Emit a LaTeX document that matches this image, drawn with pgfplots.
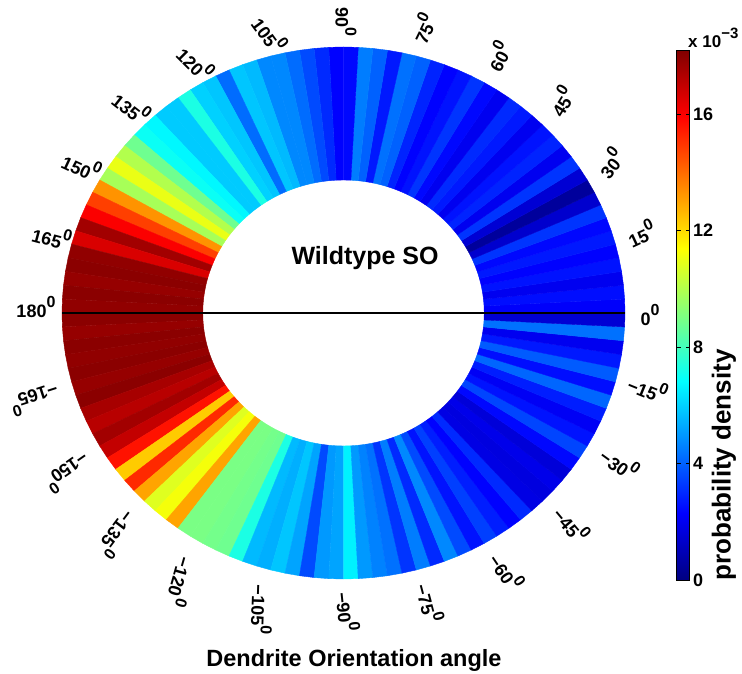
\documentclass[border=0pt]{standalone}
\usepackage{pgfplots}
\usepackage{pgfplotstable}
\pgfplotsset{compat=1.18}
\usepackage{fontspec}
\setmainfont{Liberation Sans}
\pgfplotstableread{
th c
-180 18
-177 17.8
-174 18
-171 17.9
-168 18
-165 17.8
-162 18
-159 17.5
-156 17.2
-153 17.6
-150 17.0
-147 15.6
-144 12.3
-141 15.2
-138 13.0
-135 10.8
-132 11.2
-129 13.0
-126 9.0
-123 9.0
-120 8.9
-117 8.8
-114 7.3
-111 5.6
-108 5.4
-105 5.8
-102 5.2
-99 3.6
-96 5.0
-93 5.2
-90 6.6
-87 5.0
-84 4.6
-81 4.3
-78 3.2
-75 4.5
-72 3.0
-69 4.7
-66 3.6
-63 2.6
-60 3.4
-57 2.8
-54 2.3
-51 3.0
-48 1.8
-45 1.7
-42 1.9
-39 1.6
-36 2.4
-33 3.5
-30 2.6
-27 2.1
-24 2.8
-21 4.1
-18 2.5
-15 3.9
-12 2.7
-9 2.0
-6 4.3
-3 1.5
0 2.2
3 2.5
6 2.0
9 2.6
12 2.3
15 2.7
18 2.4
21 3.2
24 1.4
27 0.5
30 1.5
33 3.2
36 2.0
39 2.9
42 2.6
45 2.0
48 2.7
51 3.0
54 2.0
57 2.4
60 3.2
63 2.6
66 2.3
69 2.9
72 4.0
75 4.3
78 2.7
81 4.0
84 4.5
87 2.4
90 2.3
93 3.0
96 3.6
99 4.2
102 4.7
105 4.7
108 5.6
111 5.8
114 4.2
117 5.8
120 6.0
123 7.3
126 5.9
129 5.9
132 6.7
135 7.0
138 8.8
141 10.0
144 11.0
147 9.8
150 13.3
153 14.8
156 16.0
159 17.6
162 16.6
165 17.9
168 18
171 17.8
174 18
177 17.9
180 18
}\ringdata
\pgfplotstablevertcat{\ringboth}{\ringdata}
\pgfplotstablevertcat{\ringboth}{\ringdata}
\newcommand{\lab}[1]{#1\raisebox{0.55em}{\fontsize{16}{16}\selectfont 0}}
\begin{document}
\begin{tikzpicture}
\path[use as bounding box] (0,0) rectangle (742pt,674pt);
\begin{axis}[
  at={(343.5pt,361pt)}, anchor=center,
  scale only axis, width=563pt, height=532pt,
  xmin=-2, xmax=2, ymin=-2, ymax=2,
  hide axis,
  colormap/jet,
  point meta min=0, point meta max=18.2,
  colorbar,
  colorbar style={
    at={(parent axis.north east)}, anchor=north west,
    xshift=43pt, yshift=-3pt,
    width=13pt, height=530pt,
    ytick={0,4,8,12,16},
    tick align=inside,
    major tick length=4pt,
    ytick style={black, line width=0.6pt},
    axis line style={black, line width=0.6pt},
    yticklabel style={font=\bfseries\fontsize{18}{20}\selectfont, xshift=0pt},
    /pgf/number format/assume math mode=true,
  },
  clip=false,
]
\addplot[surf, shader=flat corner, mesh/rows=2, mesh/cols=121, point meta=explicit]
  table[x expr={ifthenelse(\coordindex<121,1,2)*cos(\thisrow{th})},
        y expr={ifthenelse(\coordindex<121,1,2)*sin(\thisrow{th})},
        meta=c] {\ringboth};
\addplot[black, line width=1.6pt] coordinates {(-2,0) (2,0)};
\tikzset{lb/.style={font=\bfseries\fontsize{18}{20}\selectfont, inner sep=0pt}}
\node[lb, rotate=0]    at (axis cs:2.178,-0.015) {\lab{0}};
\node[lb, rotate=25]   at (axis cs:2.114,0.602)  {\lab{15}};
\node[lb, rotate=52]   at (axis cs:1.894,1.128)  {\lab{30}};
\node[lb, rotate=58]   at (axis cs:1.545,1.594)  {\lab{45}};
\node[lb, rotate=62]   at (axis cs:1.098,1.932)  {\lab{60}};
\node[lb, rotate=64]   at (axis cs:0.565,2.143)  {\lab{75}};
\node[lb, rotate=-90]  at (axis cs:0.018,2.188)  {\lab{90}};
\node[lb, rotate=-54]  at (axis cs:-0.522,2.098) {\lab{105}};
\node[lb, rotate=-45]  at (axis cs:-1.048,1.880) {\lab{120}};
\node[lb, rotate=-38]  at (axis cs:-1.503,1.549) {\lab{135}};
\node[lb, rotate=-25]  at (axis cs:-1.858,1.105) {\lab{150}};
\node[lb, rotate=-15]  at (axis cs:-2.071,0.579) {\lab{165}};
\node[lb, rotate=0]    at (axis cs:-2.185,0.045) {\lab{180}};
\node[lb, rotate=-162] at (axis cs:-2.192,-0.654) {\lab{−165}};
\node[lb, rotate=-145] at (axis cs:-1.957,-1.203) {\lab{−150}};
\node[lb, rotate=-127] at (axis cs:-1.602,-1.669) {\lab{−135}};
\node[lb, rotate=-106] at (axis cs:-1.147,-2.023) {\lab{−120}};
\node[lb, rotate=-92]  at (axis cs:-0.579,-2.233) {\lab{−105}};
\node[lb, rotate=-84]  at (axis cs:0.032,-2.248)  {\lab{−90}};
\node[lb, rotate=-75]  at (axis cs:0.615,-2.180)  {\lab{−75}};
\node[lb, rotate=-56]  at (axis cs:1.162,-1.940)  {\lab{−60}};
\node[lb, rotate=-50]  at (axis cs:1.623,-1.586)  {\lab{−45}};
\node[lb, rotate=-36]  at (axis cs:1.965,-1.128)  {\lab{−30}};
\node[lb, rotate=-22]  at (axis cs:2.163,-0.564)  {\lab{−15}};
\node[font=\bfseries\fontsize{25}{27}\selectfont] at (axis cs:0.153,0.414) {Wildtype SO};
\end{axis}
\node[font=\bfseries\fontsize{23.5}{26}\selectfont] at (354pt,14pt) {Dendrite Orientation angle};
\node[font=\bfseries\fontsize{26}{28}\selectfont, rotate=90] at (724pt,209pt) {probability density};
\node[font=\bfseries\fontsize{17}{19}\selectfont, anchor=west, inner sep=0pt] at (688pt,636pt) {x 10\raisebox{0.5em}{\fontsize{15}{15}\selectfont −3}};
\end{tikzpicture}
\end{document}
